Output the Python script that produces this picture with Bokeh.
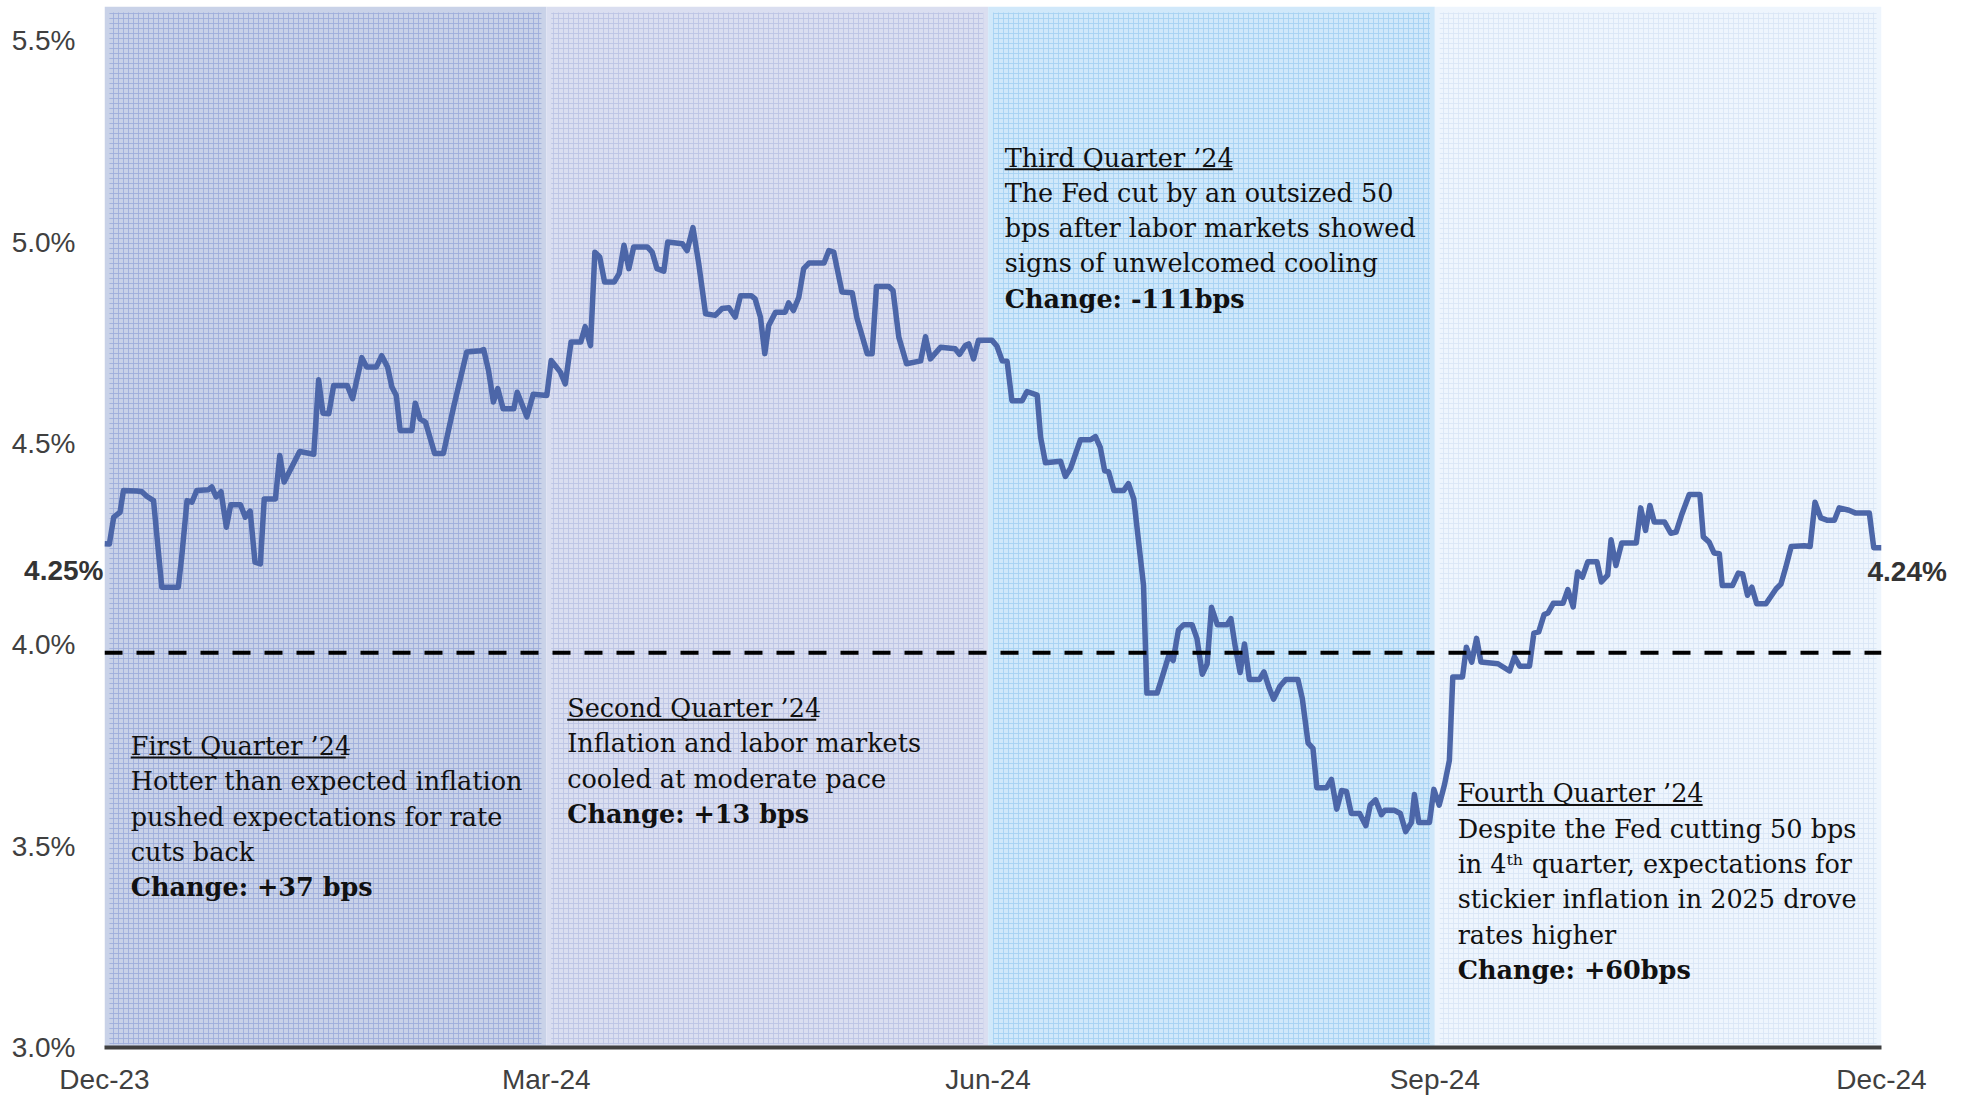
from bokeh.plotting import figure
from bokeh.models import FixedTicker, Span, Range1d, LinearAxis
from bokeh.embed import file_html
from bokeh.resources import INLINE
from bokeh.core.properties import value

# ---------------- data ----------------
# x = days since 31-Dec-2023, y = 2-year yield (%)
days = [0, 1.0, 1.9, 3.2, 3.9, 6.7, 7.7, 8.7, 10.1, 11.8, 15.2, 15.9, 17.0, 18.0, 19.0, 21.4,
        22.1, 23.0, 24.0, 25.1, 26.0, 28.0, 29.0, 30.0, 31.0, 32.1, 32.9, 35.2, 36.1, 37.0,
        40.2, 43.1, 44.1, 45.0, 46.2, 47.2, 50.0, 51.1, 53.0, 54.0, 56.0, 57.1, 58.3, 59.2,
        60.1, 60.9, 63.3, 64.0, 65.0, 66.1, 68.0, 69.8, 71.9, 74.6, 77.4, 78.1, 79.1, 80.1,
        81.0, 82.1, 84.3, 85.0, 87.0, 88.3, 91.1, 92.0, 93.9, 94.9, 96.1, 98.1, 99.0, 100.1,
        101.0, 102.0, 103.0, 105.0, 106.0, 107.0, 108.0, 109.0, 111.8, 112.8, 113.8, 115.2,
        116.0, 119.0, 120.0, 121.2, 122.4, 123.8, 125.8, 127.2, 128.6, 129.9, 131.0, 133.2,
        134.0, 135.1, 136.0, 136.8, 138.2, 140.2, 140.9, 141.9, 143.0, 144.0, 145.1, 148.2,
        149.2, 150.2, 151.9, 154.0, 155.0, 157.1, 158.1, 159.0, 161.5, 162.4, 163.6, 165.2,
        168.1, 169.1, 170.1, 172.2, 175.2, 176.1, 177.3, 178.0, 179.0, 180.0, 182.8, 183.8,
        184.9, 185.9, 186.9, 189.0, 190.0, 192.1, 192.8, 193.8, 196.9, 197.9, 199.0, 201.0,
        203.1, 204.1, 205.1, 206.0, 206.8, 207.9, 209.9, 210.9, 212.0, 214.0, 214.7, 216.8,
        217.8, 219.2, 220.1, 221.2, 222.3, 224.0, 225.0, 226.1, 227.1, 228.0, 229.2, 231.2,
        232.0, 232.9, 233.9, 234.8, 235.8, 237.9, 238.8, 239.9, 240.8, 242.1, 243.3, 245.8,
        246.7, 247.9, 248.9, 249.7, 251.7, 252.7, 253.8, 254.8, 255.8, 256.8, 258.5, 259.8,
        260.7, 261.8, 263.0, 263.7, 265.7, 266.9, 268.0, 269.2, 269.8, 270.7, 272.9, 273.8,
        274.9, 276.0, 277.0, 277.7, 279.7, 280.5, 281.6, 282.6, 283.5, 287.0, 289.4, 290.4,
        291.5, 293.5, 294.4, 295.4, 296.5, 297.3, 298.4, 300.4, 301.4, 302.5, 303.4, 304.4,
        305.5, 307.4, 308.3, 309.6, 310.3, 311.3, 312.5, 315.5, 316.4, 317.4, 318.3, 319.2,
        321.3, 322.6, 323.7, 324.9, 326.4, 328.6, 329.3, 330.5, 331.5, 332.6, 333.2, 335.3,
        336.5, 337.4, 338.4, 339.3, 340.3, 342.2, 344.3, 345.3, 346.3, 347.4, 350.1, 351.3,
        352.3, 353.5, 354.9, 356.3, 357.3, 359.3, 360.7, 363.5, 364.4, 366.0]
yields = [4.251, 4.250, 4.317, 4.329, 4.383, 4.382, 4.380, 4.369, 4.358, 4.143, 4.143, 4.218,
          4.358, 4.354, 4.383, 4.385, 4.392, 4.367, 4.380, 4.292, 4.348, 4.348, 4.317, 4.332,
          4.205, 4.201, 4.362, 4.362, 4.470, 4.404, 4.480, 4.473, 4.658, 4.575, 4.574, 4.644,
          4.644, 4.611, 4.713, 4.690, 4.690, 4.718, 4.690, 4.640, 4.619, 4.532, 4.532, 4.600,
          4.561, 4.553, 4.475, 4.475, 4.590, 4.727, 4.730, 4.733, 4.681, 4.603, 4.636, 4.586,
          4.586, 4.627, 4.566, 4.622, 4.619, 4.706, 4.677, 4.648, 4.752, 4.752, 4.790, 4.743,
          4.975, 4.963, 4.901, 4.901, 4.922, 4.992, 4.934, 4.988, 4.988, 4.975, 4.934, 4.928,
          5.000, 4.996, 4.979, 5.036, 4.946, 4.822, 4.818, 4.835, 4.837, 4.814, 4.867, 4.867,
          4.859, 4.814, 4.723, 4.793, 4.826, 4.826, 4.849, 4.830, 4.863, 4.934, 4.948, 4.948,
          4.979, 4.975, 4.876, 4.874, 4.810, 4.723, 4.723, 4.890, 4.890, 4.880, 4.764, 4.698,
          4.705, 4.765, 4.710, 4.739, 4.735, 4.721, 4.743, 4.747, 4.710, 4.756, 4.756, 4.742,
          4.705, 4.704, 4.606, 4.606, 4.629, 4.620, 4.516, 4.452, 4.456, 4.418, 4.439, 4.509,
          4.509, 4.517, 4.490, 4.432, 4.430, 4.383, 4.383, 4.400, 4.362, 4.148, 3.880, 3.880,
          3.918, 3.973, 3.961, 4.037, 4.050, 4.050, 4.016, 3.927, 3.952, 4.093, 4.050, 4.050,
          4.065, 3.995, 3.931, 4.002, 3.914, 3.914, 3.933, 3.892, 3.865, 3.897, 3.914, 3.914,
          3.867, 3.756, 3.743, 3.645, 3.645, 3.666, 3.592, 3.638, 3.636, 3.581, 3.581, 3.551,
          3.602, 3.615, 3.578, 3.589, 3.589, 3.581, 3.536, 3.559, 3.628, 3.559, 3.559, 3.641,
          3.602, 3.653, 3.713, 3.920, 3.920, 3.994, 3.957, 4.016, 3.957, 3.953, 3.935, 3.970,
          3.947, 3.947, 4.029, 4.032, 4.075, 4.079, 4.103, 4.103, 4.137, 4.094, 4.181, 4.168,
          4.206, 4.206, 4.156, 4.173, 4.261, 4.197, 4.253, 4.253, 4.340, 4.284, 4.346, 4.305,
          4.305, 4.277, 4.280, 4.325, 4.373, 4.373, 4.268, 4.255, 4.228, 4.226, 4.147, 4.147,
          4.178, 4.176, 4.123, 4.143, 4.102, 4.102, 4.139, 4.151, 4.193, 4.244, 4.246, 4.244,
          4.354, 4.315, 4.309, 4.309, 4.340, 4.334, 4.327, 4.327, 4.241, 4.241]

quarter_start = [0, 91, 182, 274]
quarter_end = [91, 182, 274, 366]
quarter_fill = ["#c9d2e8", "#dadef0", "#d0e8fa", "#eef5fd"]
quarter_grid = ["#9eaedb", "#bcc4e4", "#a6d2f3", "#dae7f6"]

x_tick_days = [0, 91, 182, 274, 366]
x_tick_labels = ["Dec-23", "Mar-24", "Jun-24", "Sep-24", "Dec-24"]
y_ticks = [3.0, 3.5, 4.0, 4.5, 5.0, 5.5]
y_tick_labels = ["3.0%", "3.5%", "4.0%", "4.5%", "5.0%", "5.5%"]

reference_level = 3.98
start_label = "4.25%"
end_label = "4.24%"

note_headers = ["First Quarter \u201924", "Second Quarter \u201924",
                "Third Quarter \u201924", "Fourth Quarter \u201924"]
note_bodies = [
    ["Hotter than expected inflation", "pushed expectations for rate", "cuts back"],
    ["Inflation and labor markets", "cooled at moderate pace"],
    ["The Fed cut by an outsized 50", "bps after labor markets showed",
     "signs of unwelcomed cooling"],
    ["Despite the Fed cutting 50 bps", "in 4\u1d57\u02b0 quarter, expectations for",
     "stickier inflation in 2025 drove", "rates higher"],
]
note_changes = ["Change: +37 bps", "Change: +13 bps", "Change: -111bps", "Change: +60bps"]

# ---------------- layout (positions / styles) ----------------
note_x = [5.4, 95.3, 185.4, 278.7]          # left edge of each note, in days
note_y = [3.749, 3.843, 5.210, 3.631]        # centre of header line, in %
line_step = 0.0877
header_px = [215, 249, 228, 245]             # underline lengths in px
start_label_y = 4.185
end_label_y = 4.181

W, H = 1971, 1100
BL, BR, BT, BB = 104, 90, 6, 53
x0, x1 = 0, 366
y0, y1 = 3.0, 5.585
px_per_day = (W - BL - BR) / (x1 - x0)

p = figure(width=W, height=H, x_range=Range1d(x0, x1), y_range=Range1d(y0, y1),
           output_backend="svg", toolbar_location=None,
           min_border_left=BL, min_border_right=BR, min_border_top=BT, min_border_bottom=BB)
p.outline_line_color = None
p.xgrid.visible = False
p.ygrid.visible = False
p.background_fill_color = "white"
p.border_fill_color = "white"

band_top = 5.585
p.quad(left=quarter_start, right=quarter_end, top=band_top, bottom=y0,
       fill_color=quarter_fill, line_color=None)
inset_d = 1.0
p.quad(left=[s + inset_d for s in quarter_start], right=[e - inset_d for e in quarter_end],
       top=band_top - 0.015, bottom=y0 + 0.008,
       fill_alpha=0, line_color=None,
       hatch_pattern="+", hatch_color=quarter_grid, hatch_scale=5, hatch_weight=1,
       hatch_alpha=0.9)

p.add_layout(Span(location=reference_level, dimension="width", line_color="black",
                  line_width=4, line_dash="18 14"))

p.line(days, yields, line_color="#4c66a8", line_width=5.5, line_join="round")

# notes
serif = "DejaVu Serif"
fs = "25.5px"
hx, hy, ht = [], [], []
bx, by, bt = [], [], []
cx, cy, ct = [], [], []
ux0, ux1, uy = [], [], []
for i in range(4):
    hx.append(note_x[i]); hy.append(note_y[i]); ht.append(note_headers[i])
    ux0.append(note_x[i]); ux1.append(note_x[i] + header_px[i] / px_per_day)
    uy.append(note_y[i] - 0.029)
    for j, t in enumerate(note_bodies[i]):
        bx.append(note_x[i]); by.append(note_y[i] - (j + 1) * line_step); bt.append(t)
    cx.append(note_x[i]); cy.append(note_y[i] - (len(note_bodies[i]) + 1) * line_step)
    ct.append(note_changes[i])

p.text(x=hx + bx, y=hy + by, text=ht + bt, text_font=value(serif), text_font_size=fs,
       text_color="#111111", text_baseline="middle", text_align="left")
p.text(x=cx, y=cy, text=ct, text_font=value(serif), text_font_size=fs,
       text_font_style="bold", text_color="#111111", text_baseline="middle", text_align="left")
p.segment(x0=ux0, y0=uy, x1=ux1, y1=uy, line_color="#111111", line_width=2)

# x axis
p.xaxis.ticker = FixedTicker(ticks=x_tick_days)
p.xaxis.major_label_overrides = {d: l for d, l in zip(x_tick_days, x_tick_labels)}
p.xaxis.axis_line_color = "#404040"
p.xaxis.axis_line_width = 4
p.xaxis.major_tick_line_color = None
p.xaxis.minor_tick_line_color = None
p.xaxis.major_tick_out = 0
p.xaxis.major_label_standoff = 16

# left: inner axis carries the bold start value, outer axis the regular ticks
ya_start = p.yaxis[0]
ya_start.ticker = FixedTicker(ticks=[start_label_y])
ya_start.major_label_overrides = {start_label_y: start_label}
ya_start.major_label_text_font_style = "bold"
ya_start.major_label_text_color = "#333333"
ya_start.major_label_standoff = 1

ya_main = LinearAxis(ticker=FixedTicker(ticks=y_ticks),
                     major_label_overrides={t: l for t, l in zip(y_ticks, y_tick_labels)},
                     major_label_standoff=-54, major_label_text_color="#404040")
p.add_layout(ya_main, "left")

ya_end = LinearAxis(ticker=FixedTicker(ticks=[end_label_y]),
                    major_label_overrides={end_label_y: end_label},
                    major_label_standoff=-14, major_label_text_font_style="bold",
                    major_label_text_color="#333333")
p.add_layout(ya_end, "right")

for ax in (ya_start, ya_main, ya_end):
    ax.axis_line_color = None
    ax.major_tick_line_color = None
    ax.minor_tick_line_color = None
    ax.major_tick_out = 0
    ax.major_tick_in = 0
    ax.minor_tick_out = 0

for ax in (p.xaxis[0], ya_start, ya_main, ya_end):
    ax.major_label_text_font = "Liberation Sans"
    ax.major_label_text_font_size = "28px"
p.xaxis.major_label_text_color = "#404040"

open("out.html", "w").write(file_html(p, INLINE))
